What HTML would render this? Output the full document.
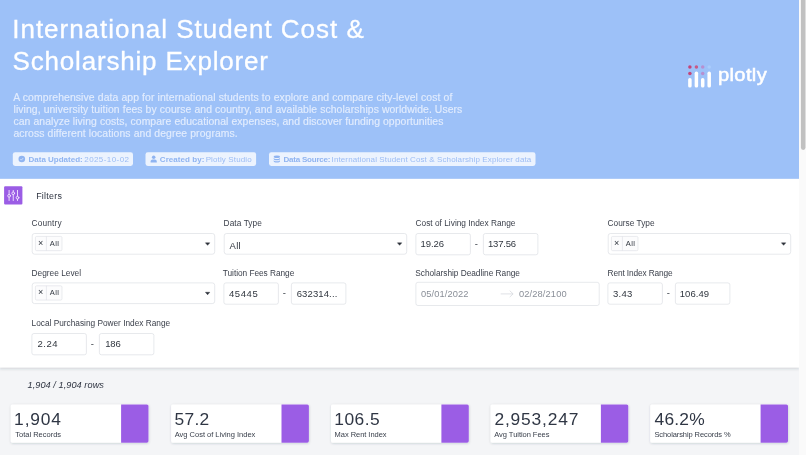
<!DOCTYPE html>
<html lang="en">
<head>
<meta charset="utf-8">
<title>International Student Cost &amp; Scholarship Explorer</title>
<style>
html,body{margin:0;padding:0;}
body{width:806px;height:455px;overflow:hidden;position:relative;background:#f4f5f7;font-family:"Liberation Sans",sans-serif;}
.t{position:absolute;z-index:4;white-space:nowrap;line-height:1;font-family:"Liberation Sans",sans-serif;}
.a{position:absolute;box-sizing:border-box;}
#txt{position:absolute;left:0;top:0;width:806px;height:455px;opacity:0.999;}
</style>
</head>
<body>
<svg class="a" id="shapes" style="left:0;top:0" width="806" height="455" viewBox="0 0 806 455">
<defs><filter id="sh1" x="-5%" y="-10%" width="110%" height="125%"><feDropShadow dx="0" dy="1.100" stdDeviation="1.400" flood-color="#28324a" flood-opacity="0.21"/></filter>
<filter id="sh2" x="-10%" y="-20%" width="120%" height="150%"><feDropShadow dx="0.300" dy="0.700" stdDeviation="1.100" flood-color="#28324a" flood-opacity="0.2"/></filter></defs>
<rect x="0.00" y="0.00" width="799.00" height="455.00" fill="#f4f5f7"/>
<rect x="0.00" y="178.80" width="799.00" height="188.70" fill="#fff" filter="url(#sh1)"/>
<rect x="0.00" y="0.00" width="799.00" height="178.80" fill="#9dc1f8"/>
<rect x="799.00" y="0.00" width="7.00" height="455.00" fill="#fafafa"/>
<rect x="800.90" y="-2.00" width="4.60" height="151.90" rx="2.3" fill="#c1c1c1"/>
<rect x="12.80" y="152.30" width="120.20" height="13.60" rx="2.3" fill="#ecf3fe"/>
<rect x="145.50" y="152.30" width="110.60" height="13.60" rx="2.3" fill="#ecf3fe"/>
<rect x="269.00" y="152.30" width="266.50" height="13.60" rx="2.3" fill="#ecf3fe"/>
<g transform="translate(18.5 155.7) scale(0.4125)"><circle cx="8" cy="8" r="8" fill="#8fb4f1"/><path d="M4.600 8.400l2.300 2.300 4.500-4.900" fill="none" stroke="#ecf3fe" stroke-width="1.700"/></g>
<g transform="translate(150.6 155.5) scale(0.4430)" fill="#8fb4f1"><circle cx="7" cy="4" r="4"/><path d="M0 16v-2.500C0 10.500 2.500 9 7 9s7 1.500 7 4.500V16z"/></g>
<g transform="translate(273.7 155.4) scale(0.4500)" fill="#8fb4f1"><ellipse cx="7" cy="3" rx="7" ry="3"/><path d="M0 5c0 1.700 3.100 3 7 3s7-1.300 7-3v3c0 1.700-3.100 3-7 3s-7-1.300-7-3z"/><path d="M0 10c0 1.700 3.100 3 7 3s7-1.300 7-3v3c0 1.700-3.100 3-7 3s-7-1.300-7-3z"/></g>
<g transform="translate(686 63)"><circle cx="3.9" cy="4.0" r="1.75" fill="#c4457a"/><circle cx="3.9" cy="10.6" r="1.75" fill="#c4457a"/><rect x="2.15" y="15.0" width="3.5" height="9.6" rx="1.7" fill="#fff"/><circle cx="10.4" cy="4.0" r="1.75" fill="#c95a86"/><rect x="8.65" y="8.6" width="3.5" height="16.0" rx="1.7" fill="#fff"/><circle cx="16.7" cy="4.0" r="1.75" fill="#b78fd0"/><circle cx="16.7" cy="10.6" r="1.75" fill="#b78fd0"/><rect x="14.95" y="15.0" width="3.5" height="9.6" rx="1.7" fill="#fff"/><circle cx="23.2" cy="4.0" r="1.75" fill="#aacdfb"/><rect x="21.45" y="8.6" width="3.5" height="16.0" rx="1.7" fill="#fff"/></g>
<rect x="4.10" y="186.30" width="18.30" height="18.30" rx="1.0" fill="#9b5de5"/>
<g transform="translate(4.1 186.3)" fill="none" stroke="#f3e8ff" stroke-width="0.9" stroke-linecap="round"><path d="M5.00 4.100V8.00M5.00 11.00V14.200"/><circle cx="5.00" cy="9.50" r="1.350"/><path d="M9.15 4.100V5.50M9.15 8.50V14.200"/><circle cx="9.15" cy="7.00" r="1.350"/><path d="M13.40 4.100V9.90M13.40 12.90V14.200"/><circle cx="13.40" cy="11.40" r="1.350"/></g>
<rect x="32.20" y="233.50" width="182.50" height="20.70" rx="2.4" fill="#fff" stroke="#d6d9de" stroke-width="0.58"/>
<rect x="35.40" y="236.40" width="26.60" height="14.30" rx="1.3" fill="#fcfcfd" stroke="#d6d9de" stroke-width="0.5"/>
<path d="M46.40 236.40v14.300" stroke="#d6d9de" stroke-width="0.5"/>
<path d="M205.40 242.85h4.400l-2.200 2.500z" fill="#2b2f38" stroke="#2b2f38" stroke-width="0.4" stroke-linejoin="round"/>
<rect x="224.20" y="233.50" width="182.50" height="20.70" rx="2.4" fill="#fff" stroke="#d6d9de" stroke-width="0.58"/>
<path d="M397.40 242.85h4.400l-2.200 2.500z" fill="#2b2f38" stroke="#2b2f38" stroke-width="0.4" stroke-linejoin="round"/>
<rect x="415.90" y="233.50" width="54.50" height="21.30" rx="2.0" fill="#fff" stroke="#d6d9de" stroke-width="0.58"/>
<rect x="483.40" y="233.50" width="54.50" height="21.30" rx="2.0" fill="#fff" stroke="#d6d9de" stroke-width="0.58"/>
<rect x="608.20" y="233.50" width="182.50" height="20.70" rx="2.4" fill="#fff" stroke="#d6d9de" stroke-width="0.58"/>
<rect x="611.40" y="236.40" width="26.60" height="14.30" rx="1.3" fill="#fcfcfd" stroke="#d6d9de" stroke-width="0.5"/>
<path d="M622.40 236.40v14.300" stroke="#d6d9de" stroke-width="0.5"/>
<path d="M781.40 242.85h4.400l-2.200 2.500z" fill="#2b2f38" stroke="#2b2f38" stroke-width="0.4" stroke-linejoin="round"/>
<rect x="32.20" y="282.90" width="182.50" height="20.70" rx="2.4" fill="#fff" stroke="#d6d9de" stroke-width="0.58"/>
<rect x="35.40" y="285.80" width="26.60" height="14.30" rx="1.3" fill="#fcfcfd" stroke="#d6d9de" stroke-width="0.5"/>
<path d="M46.40 285.80v14.300" stroke="#d6d9de" stroke-width="0.5"/>
<path d="M205.40 292.25h4.400l-2.200 2.500z" fill="#2b2f38" stroke="#2b2f38" stroke-width="0.4" stroke-linejoin="round"/>
<rect x="223.90" y="282.90" width="54.50" height="21.30" rx="2.0" fill="#fff" stroke="#d6d9de" stroke-width="0.58"/>
<rect x="291.40" y="282.90" width="54.50" height="21.30" rx="2.0" fill="#fff" stroke="#d6d9de" stroke-width="0.58"/>
<rect x="415.90" y="282.30" width="183.30" height="23.20" rx="2.0" fill="#fff" stroke="#d6d9de" stroke-width="0.58"/>
<path d="M500.700 293.900h12.400m-3.400 -3.200l3.400 3.200l-3.400 3.200" fill="none" stroke="#d3d6db" stroke-width="0.7"/>
<rect x="607.90" y="282.90" width="54.50" height="21.30" rx="2.0" fill="#fff" stroke="#d6d9de" stroke-width="0.58"/>
<rect x="675.40" y="282.90" width="54.50" height="21.30" rx="2.0" fill="#fff" stroke="#d6d9de" stroke-width="0.58"/>
<rect x="31.90" y="333.50" width="54.50" height="21.30" rx="2.0" fill="#fff" stroke="#d6d9de" stroke-width="0.58"/>
<rect x="99.40" y="333.50" width="54.50" height="21.30" rx="2.0" fill="#fff" stroke="#d6d9de" stroke-width="0.58"/>
<rect x="10.70" y="404.40" width="137.80" height="38.30" rx="1.6" fill="#fff" filter="url(#sh2)"/>
<path d="M121.10 404.40h25.80a1.600 1.600 0 0 1 1.600 1.600v35.10a1.600 1.600 0 0 1 -1.600 1.600h-25.80z" fill="#9b5de5"/>
<rect x="171.10" y="404.40" width="137.80" height="38.30" rx="1.6" fill="#fff" filter="url(#sh2)"/>
<path d="M281.50 404.40h25.80a1.600 1.600 0 0 1 1.600 1.600v35.10a1.600 1.600 0 0 1 -1.600 1.600h-25.80z" fill="#9b5de5"/>
<rect x="331.00" y="404.40" width="137.80" height="38.30" rx="1.6" fill="#fff" filter="url(#sh2)"/>
<path d="M441.40 404.40h25.80a1.600 1.600 0 0 1 1.600 1.600v35.10a1.600 1.600 0 0 1 -1.600 1.600h-25.80z" fill="#9b5de5"/>
<rect x="490.50" y="404.40" width="137.80" height="38.30" rx="1.6" fill="#fff" filter="url(#sh2)"/>
<path d="M600.90 404.40h25.80a1.600 1.600 0 0 1 1.600 1.600v35.10a1.600 1.600 0 0 1 -1.600 1.600h-25.80z" fill="#9b5de5"/>
<rect x="650.20" y="404.40" width="137.80" height="38.30" rx="1.6" fill="#fff" filter="url(#sh2)"/>
<path d="M760.60 404.40h25.80a1.600 1.600 0 0 1 1.600 1.600v35.10a1.600 1.600 0 0 1 -1.600 1.600h-25.80z" fill="#9b5de5"/>
</svg>
<div id="txt">
<span class="t" id="t0" style="left:12.28px;top:15.79px;font-size:26.00px;color:#fff;letter-spacing:0.973px;-webkit-text-stroke:0.3px #fff">International Student Cost &amp;</span>
<span class="t" id="t1" style="left:12.50px;top:48.49px;font-size:26.00px;color:#fff;letter-spacing:0.821px;-webkit-text-stroke:0.3px #fff">Scholarship Explorer</span>
<span class="t" id="t2" style="left:13.35px;top:92.70px;font-size:10.40px;color:#e2ecfd;letter-spacing:0.113px;-webkit-text-stroke:0.15px #e2ecfd">A comprehensive data app for international students to explore and compare city-level cost of</span>
<span class="t" id="t3" style="left:13.50px;top:104.80px;font-size:10.40px;color:#e2ecfd;letter-spacing:0.086px;-webkit-text-stroke:0.15px #e2ecfd">living, university tuition fees by course and country, and available scholarships worldwide. Users</span>
<span class="t" id="t4" style="left:13.49px;top:116.80px;font-size:10.40px;color:#e2ecfd;letter-spacing:0.080px;-webkit-text-stroke:0.15px #e2ecfd">can analyze living costs, compare educational expenses, and discover funding opportunities</span>
<span class="t" id="t5" style="left:13.38px;top:128.90px;font-size:10.40px;color:#e2ecfd;letter-spacing:0.098px;-webkit-text-stroke:0.15px #e2ecfd">across different locations and degree programs.</span>
<span class="t" id="t6" style="left:28.60px;top:155.63px;font-size:8.00px;color:#8fb4f1;letter-spacing:-0.012px;font-weight:bold">Data Updated:</span>
<span class="t" id="t7" style="left:84.28px;top:155.63px;font-size:8.00px;color:#9bbcf4;letter-spacing:0.418px;">2025-10-02</span>
<span class="t" id="t8" style="left:159.83px;top:155.63px;font-size:8.00px;color:#8fb4f1;letter-spacing:0.047px;font-weight:bold">Created by:</span>
<span class="t" id="t9" style="left:205.66px;top:155.63px;font-size:8.00px;color:#9bbcf4;letter-spacing:0.128px;">Plotly Studio</span>
<span class="t" id="t10" style="left:283.40px;top:155.63px;font-size:8.00px;color:#8fb4f1;letter-spacing:-0.204px;font-weight:bold">Data Source:</span>
<span class="t" id="t11" style="left:331.60px;top:155.63px;font-size:8.00px;color:#9bbcf4;letter-spacing:0.109px;">International Student Cost &amp; Scholarship Explorer data</span>
<span class="t" id="t12" style="left:717.64px;top:66.99px;font-size:17.50px;color:#fff;letter-spacing:0.000px;-webkit-text-stroke:0.5px #fff;transform:scaleX(1.15);transform-origin:0 0;letter-spacing:0.3px">plotly</span>
<span class="t" id="t13" style="left:36.20px;top:191.77px;font-size:8.90px;color:#2d3340;letter-spacing:0.265px;">Filters</span>
<span class="t" id="t14" style="left:31.60px;top:218.97px;font-size:8.30px;color:#3a3f4a;letter-spacing:0.167px;">Country</span>
<span class="t" id="t15" style="left:37.93px;top:238.78px;font-size:9.00px;color:#30363f;letter-spacing:0.000px;">×</span>
<span class="t" id="t16" style="left:49.71px;top:239.55px;font-size:7.50px;color:#30363f;letter-spacing:0.489px;">All</span>
<span class="t" id="t17" style="left:223.60px;top:218.97px;font-size:8.30px;color:#3a3f4a;letter-spacing:0.077px;">Data Type</span>
<span class="t" id="t18" style="left:229.60px;top:240.96px;font-size:9.50px;color:#30363f;letter-spacing:0.199px;">All</span>
<span class="t" id="t19" style="left:415.60px;top:218.97px;font-size:8.30px;color:#3a3f4a;letter-spacing:0.008px;">Cost of Living Index Range</span>
<span class="t" id="t20" style="left:420.42px;top:239.36px;font-size:9.50px;color:#30363f;letter-spacing:-0.015px;">19.26</span>
<span class="t" id="t21" style="left:474.79px;top:238.96px;font-size:9.50px;color:#30363f;letter-spacing:0.000px;">-</span>
<span class="t" id="t22" style="left:488.01px;top:239.36px;font-size:9.50px;color:#30363f;letter-spacing:-0.191px;">137.56</span>
<span class="t" id="t23" style="left:607.60px;top:218.97px;font-size:8.30px;color:#3a3f4a;letter-spacing:0.009px;">Course Type</span>
<span class="t" id="t24" style="left:613.93px;top:238.78px;font-size:9.00px;color:#30363f;letter-spacing:0.000px;">×</span>
<span class="t" id="t25" style="left:625.71px;top:239.55px;font-size:7.50px;color:#30363f;letter-spacing:0.489px;">All</span>
<span class="t" id="t26" style="left:31.60px;top:268.57px;font-size:8.30px;color:#3a3f4a;letter-spacing:0.009px;">Degree Level</span>
<span class="t" id="t27" style="left:37.93px;top:288.18px;font-size:9.00px;color:#30363f;letter-spacing:0.000px;">×</span>
<span class="t" id="t28" style="left:49.71px;top:288.95px;font-size:7.50px;color:#30363f;letter-spacing:0.489px;">All</span>
<span class="t" id="t29" style="left:222.77px;top:268.57px;font-size:8.30px;color:#3a3f4a;letter-spacing:-0.033px;">Tuition Fees Range</span>
<span class="t" id="t30" style="left:228.91px;top:288.76px;font-size:9.50px;color:#30363f;letter-spacing:0.602px;">45445</span>
<span class="t" id="t31" style="left:282.79px;top:288.36px;font-size:9.50px;color:#30363f;letter-spacing:0.000px;">-</span>
<span class="t" id="t32" style="left:296.65px;top:288.76px;font-size:9.50px;color:#30363f;letter-spacing:0.130px;">632314...</span>
<span class="t" id="t33" style="left:415.25px;top:268.57px;font-size:8.30px;color:#3a3f4a;letter-spacing:-0.018px;">Scholarship Deadline Range</span>
<span class="t" id="t34" style="left:420.90px;top:289.53px;font-size:9.30px;color:#8a8f98;letter-spacing:0.116px;">05/01/2022</span>
<span class="t" id="t35" style="left:518.90px;top:289.53px;font-size:9.30px;color:#8a8f98;letter-spacing:0.138px;">02/28/2100</span>
<span class="t" id="t36" style="left:607.60px;top:268.57px;font-size:8.30px;color:#3a3f4a;letter-spacing:-0.127px;">Rent Index Range</span>
<span class="t" id="t37" style="left:613.07px;top:288.76px;font-size:9.50px;color:#30363f;letter-spacing:0.237px;">3.43</span>
<span class="t" id="t38" style="left:666.79px;top:288.36px;font-size:9.50px;color:#30363f;letter-spacing:0.000px;">-</span>
<span class="t" id="t39" style="left:679.80px;top:288.76px;font-size:9.50px;color:#30363f;letter-spacing:0.037px;">106.49</span>
<span class="t" id="t40" style="left:31.60px;top:319.17px;font-size:8.30px;color:#3a3f4a;letter-spacing:-0.009px;">Local Purchasing Power Index Range</span>
<span class="t" id="t41" style="left:37.50px;top:339.36px;font-size:9.50px;color:#30363f;letter-spacing:0.479px;">2.24</span>
<span class="t" id="t42" style="left:90.79px;top:338.96px;font-size:9.50px;color:#30363f;letter-spacing:0.000px;">-</span>
<span class="t" id="t43" style="left:105.26px;top:339.36px;font-size:9.50px;color:#30363f;letter-spacing:-0.190px;">186</span>
<span class="t" id="t44" style="left:27.55px;top:380.91px;font-size:9.20px;color:#2d3340;letter-spacing:0.045px;font-style:italic">1,904 / 1,904 rows</span>
<span class="t" id="t45" style="left:14.12px;top:410.97px;font-size:17.40px;color:#2f3644;letter-spacing:0.850px;">1,904</span>
<span class="t" id="t46" style="left:15.25px;top:430.85px;font-size:7.50px;color:#3a404c;letter-spacing:-0.004px;">Total Records</span>
<span class="t" id="t47" style="left:174.47px;top:410.97px;font-size:17.40px;color:#2f3644;letter-spacing:0.297px;">57.2</span>
<span class="t" id="t48" style="left:174.71px;top:430.85px;font-size:7.50px;color:#3a404c;letter-spacing:-0.004px;">Avg Cost of Living Index</span>
<span class="t" id="t49" style="left:334.27px;top:410.97px;font-size:17.40px;color:#2f3644;letter-spacing:0.466px;">106.5</span>
<span class="t" id="t50" style="left:334.62px;top:430.85px;font-size:7.50px;color:#3a404c;letter-spacing:-0.047px;">Max Rent Index</span>
<span class="t" id="t51" style="left:494.44px;top:410.97px;font-size:17.40px;color:#2f3644;letter-spacing:0.828px;">2,953,247</span>
<span class="t" id="t52" style="left:494.30px;top:430.85px;font-size:7.50px;color:#3a404c;letter-spacing:-0.040px;">Avg Tuition Fees</span>
<span class="t" id="t53" style="left:654.54px;top:410.97px;font-size:17.40px;color:#2f3644;letter-spacing:0.198px;">46.2%</span>
<span class="t" id="t54" style="left:654.38px;top:430.85px;font-size:7.50px;color:#3a404c;letter-spacing:-0.086px;">Scholarship Records %</span>
</div>
</body>
</html>
